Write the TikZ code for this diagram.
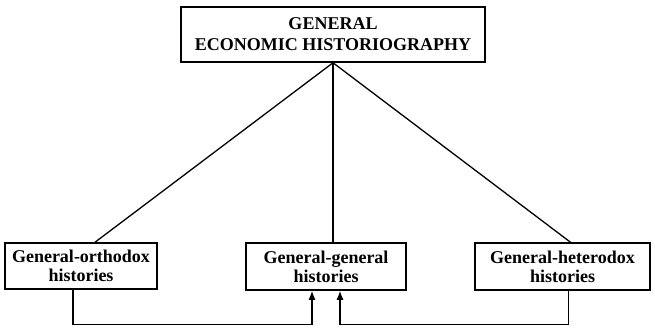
\documentclass[tikz,border=0pt]{standalone}
\usepackage{fontspec}
\setmainfont{Liberation Serif}
\usetikzlibrary{positioning, arrows.meta}

\begin{document}
\begin{tikzpicture}[x=1pt, y=-1pt,
    caja/.style={draw, line width=1.5pt, inner sep=0pt, align=center, font=\bfseries\fontsize{18}{19}\selectfont},
    linea/.style={line width=1.3pt},
    flecha/.style={line width=1.3pt, -{Latex[length=9pt,width=7pt]}}]
    % Marco del dibujo
    \useasboundingbox (0,0) rectangle (655,327);

    % Caja principal
    \node[caja, minimum width=304pt, minimum height=55pt, font=\bfseries\fontsize{18}{21}\selectfont] (general) at (333,34.5) {GENERAL\\ECONOMIC HISTORIOGRAPHY};

    % Cajas inferiores
    \node[caja, minimum width=152pt, minimum height=46pt] (orto) at (81,266) {General-orthodox\\histories};
    \node[caja, minimum width=160pt, minimum height=47pt] (gengen) at (326,266.5) {General-general\\histories};
    \node[caja, minimum width=175pt, minimum height=47pt] (hetero) at (562.5,266.5) {General-heterodox\\histories};

    % Lineas desde la caja principal
    \draw[linea] (general.south) -- ([xshift=14pt]orto.north);
    \draw[linea] (general.south) -- (general.south |- gengen.north);
    \draw[linea] (general.south) -- ([xshift=8pt]hetero.north);

    % Flechas de retorno hacia la caja central
    \draw[flecha] ([xshift=-8pt]orto.south) -- ++(0,35) -| ([xshift=-14pt]gengen.south);
    \draw[flecha] ([xshift=6pt]hetero.south) -- ++(0,34) -| ([xshift=14pt]gengen.south);
\end{tikzpicture}
\end{document}
